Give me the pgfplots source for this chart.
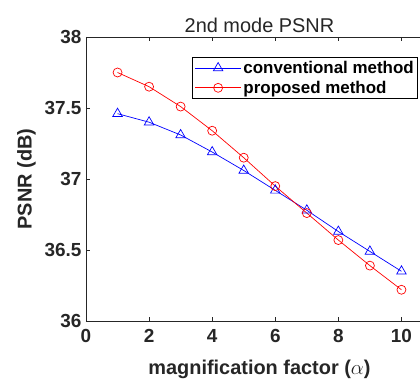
\documentclass[border=0pt]{standalone}
\usepackage{fontspec}
\setmainfont{Liberation Sans}
\usepackage{pgfplots}
\pgfplotsset{compat=1.18}
\definecolor{axgray}{rgb}{0.15,0.15,0.15}
\begin{document}
\begin{tikzpicture}
\useasboundingbox (-86bp,-59bp) rectangle (334bp,321bp);
\begin{axis}[
  scale only axis,
  width=347bp, height=284bp,
  xmin=0, xmax=11, ymin=36, ymax=38,
  xtick={0,2,4,6,8,10},
  ytick={36,36.5,37,37.5,38},
  tick align=inside,
  major tick length=4bp,
  axis line style={axgray, line width=0.6bp},
  every tick/.style={axgray, line width=0.6bp},
  tick label style={font=\fontsize{19}{22}\selectfont\bfseries, text=axgray},
  xticklabel style={yshift=-5bp},
  yticklabel style={xshift=-1bp},
  /pgf/number format/assume math mode=true,
  yticklabel style={/pgf/number format/fixed, /pgf/number format/precision=1},
  title={2nd mode PSNR},
  title style={font=\fontsize{20}{24}\selectfont, text=axgray, yshift=-5bp},
  xlabel={magnification factor ($\alpha$)},
  ylabel={PSNR (dB)},
  label style={font=\fontsize{20}{24}\selectfont\bfseries, text=axgray},
  xlabel style={yshift=-10bp},
  ylabel style={yshift=2bp},
  legend style={at={(0.957,0.93)}, anchor=north east, draw=black, line width=0.6bp,
    font=\fontsize{17}{21}\selectfont\bfseries, inner xsep=2bp, inner ysep=2bp, row sep=2bp},
  legend cell align=left,
  legend image code/.code={\draw[#1, mark=none] (0bp,0bp) -- (46bp,0bp); \draw[#1, only marks] plot coordinates {(23bp,0bp)};},
]
\addplot[blue, line width=0.7bp, mark=triangle, mark size=5.5bp, mark options={line width=0.7bp}] coordinates {
(1,37.46) (2,37.40) (3,37.31) (4,37.19) (5,37.06) (6,36.92) (7,36.78) (8,36.63) (9,36.49) (10,36.35)};
\addlegendentry{conventional method}
\addplot[red, line width=0.7bp, mark=o, mark size=4.5bp, mark options={line width=0.7bp}] coordinates {
(1,37.75) (2,37.65) (3,37.51) (4,37.34) (5,37.15) (6,36.95) (7,36.76) (8,36.57) (9,36.39) (10,36.22)};
\addlegendentry{proposed method}
\end{axis}
\end{tikzpicture}
\end{document}
